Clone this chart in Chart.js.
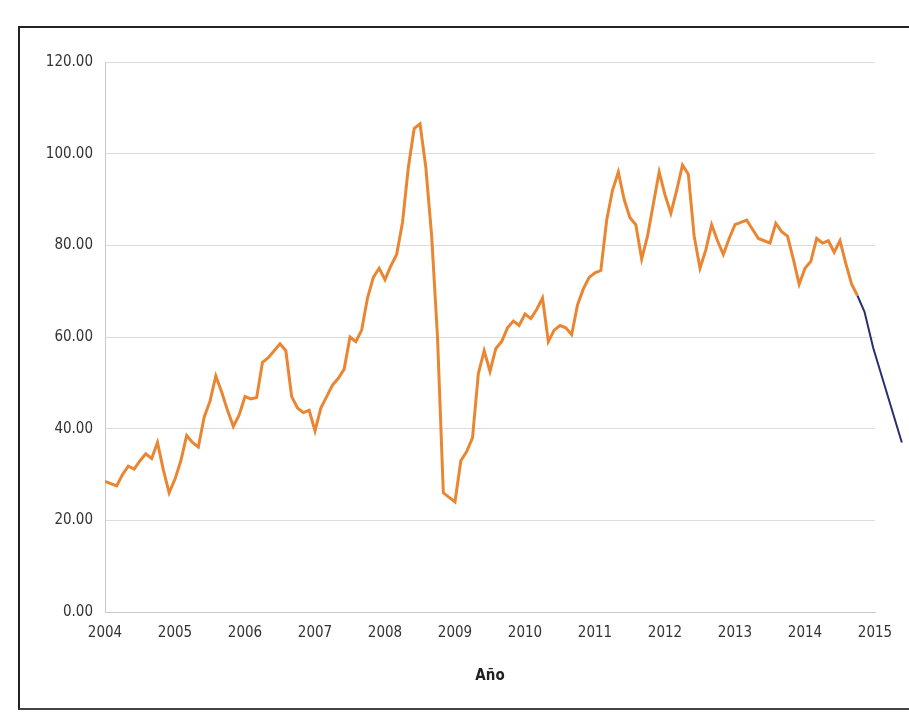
<!DOCTYPE html>
<html>
<head>
<meta charset="utf-8">
<script src="https://cdn.jsdelivr.net/npm/chart.js@4.4.1/dist/chart.umd.min.js"></script>
<style>
    html, body { margin: 0; padding: 0; background: #fff; overflow: hidden; }
    #wrap { position: relative; width: 909px; height: 727px; overflow: hidden; }
    #frame {
        position: absolute; left: 18px; top: 26px; width: 940px; height: 680px;
        border-left: 2px solid #222; border-top: 2px solid #222; border-bottom: 2px solid #444;
        pointer-events: none;
    }
</style>
</head>
<body>
<div id="wrap">
    <canvas id="chart" width="909" height="727"></canvas>
    <div id="frame"></div>
</div>
<script>
// monthly values, Jan 2004 .. Oct 2014
const prices = [
    28.5, 28, 27.5, 30, 31.8, 31.2, 33, 34.5, 33.5, 37, 31, 26,
    29, 33, 38.5, 37, 36, 42.5, 46, 51.5, 48, 44, 40.5, 43,
    47, 46.5, 46.8, 54.5, 55.5, 57, 58.5, 57, 47, 44.5, 43.5, 44,
    39.5, 44.5, 47, 49.5, 51, 53, 60, 59, 61.5, 68.5, 73, 75,
    72.5, 75.5, 78, 85, 97, 105.5, 106.5, 97, 82, 60, 26, 25,
    24, 33, 35, 38, 52, 57, 52.5, 57.5, 59, 62, 63.5, 62.5,
    65, 64, 66, 68.5, 59, 61.5, 62.5, 62, 60.5, 67, 70.5, 73,
    74, 74.5, 85.5, 92, 96, 90, 86, 84.5, 77, 82, 89, 96,
    91, 87, 92, 97.5, 95.5, 82, 75, 79, 84.5, 81, 78, 81.5,
    84.5, 85, 85.5, 83.5, 81.5, 81, 80.5, 84.8, 83, 82, 77, 71.5,
    75, 76.5, 81.5, 80.5, 81, 78.5, 81, 76, 71.5, 69
];
const yearLabels = ['2004', '2005', '2006', '2007', '2008', '2009', '2010', '2011', '2012', '2013', '2014', '2015'];
// hand-drawn pen stroke after the last point (month index, value)
const penX = [129, 130.2, 131.7, 136.6];
const penY = [69, 65.5, 57.6, 37];

const axisFont = { family: "'Liberation Sans Narrow', 'DejaVu Sans Condensed', sans-serif", size: 15 };

const ctx = document.getElementById('chart').getContext('2d');
new Chart(ctx, {
    type: 'line',
    data: {
        datasets: [
            {
                data: prices.map((v, i) => ({ x: i, y: v })),
                borderColor: '#ea8632',
                borderWidth: 3,
                pointRadius: 0,
                tension: 0
            },
            {
                data: penX.map((x, i) => ({ x: x, y: penY[i] })),
                borderColor: '#2a2f6e',
                borderWidth: 2,
                pointRadius: 0,
                tension: 0,
                clip: false
            }
        ]
    },
    options: {
        responsive: false,
        animation: false,
        layout: { padding: { left: 10, top: 62, right: 34, bottom: 38 } },
        plugins: { legend: { display: false }, tooltip: { enabled: false } },
        scales: {
            x: {
                type: 'linear',
                min: 0,
                max: 132,
                afterFit: s => { s.height = 77; },
                ticks: {
                    stepSize: 12,
                    autoSkip: false,
                    maxRotation: 0,
                    color: '#333',
                    font: axisFont,
                    padding: 4,
                    callback: v => yearLabels[v / 12]
                },
                grid: { display: false },
                border: { color: '#c8c8c8', width: 1 },
                title: {
                    display: true,
                    text: 'Año',
                    color: '#222',
                    font: { family: axisFont.family, size: 15, weight: 'bold' },
                    padding: { top: 8 }
                }
            },
            y: {
                min: 0,
                max: 120,
                afterFit: s => { s.width = 95; },
                ticks: {
                    stepSize: 20,
                    color: '#333',
                    font: axisFont,
                    padding: 12,
                    callback: v => v.toFixed(2)
                },
                grid: { color: '#dcdcdc', lineWidth: 1, drawTicks: false },
                border: { color: '#c8c8c8', width: 1 }
            }
        }
    }
});
</script>
</body>
</html>
